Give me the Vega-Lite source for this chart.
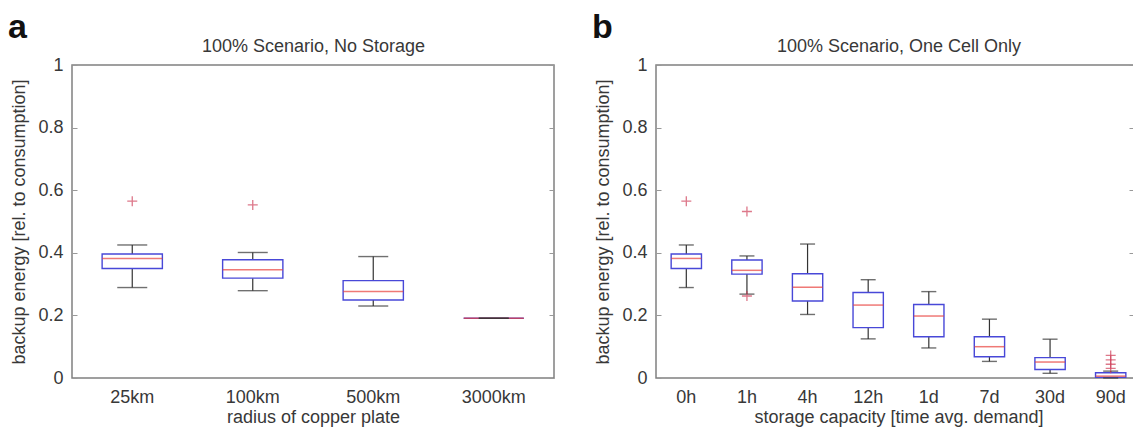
{
  "$schema": "https://vega.github.io/schema/vega-lite/v6.json",
  "background": "white",
  "padding": {"left": 7, "top": 10, "right": 0, "bottom": 0},
  "datasets": {
    "statsA": [
      {"cat": "25km", "lo": 0.289, "q1": 0.350, "med": 0.382, "q3": 0.396, "hi": 0.425},
      {"cat": "100km", "lo": 0.279, "q1": 0.319, "med": 0.346, "q3": 0.378, "hi": 0.401},
      {"cat": "500km", "lo": 0.230, "q1": 0.249, "med": 0.276, "q3": 0.311, "hi": 0.388},
      {"cat": "3000km", "lo": 0.191, "q1": 0.191, "med": 0.191, "q3": 0.191, "hi": 0.191}
    ],
    "outA": [
      {"cat": "25km", "v": 0.565},
      {"cat": "100km", "v": 0.553}
    ],
    "statsB": [
      {"cat": "0h", "lo": 0.289, "q1": 0.350, "med": 0.382, "q3": 0.396, "hi": 0.425},
      {"cat": "1h", "lo": 0.268, "q1": 0.332, "med": 0.344, "q3": 0.377, "hi": 0.390},
      {"cat": "4h", "lo": 0.203, "q1": 0.246, "med": 0.290, "q3": 0.333, "hi": 0.428},
      {"cat": "12h", "lo": 0.125, "q1": 0.161, "med": 0.233, "q3": 0.273, "hi": 0.314},
      {"cat": "1d", "lo": 0.096, "q1": 0.132, "med": 0.198, "q3": 0.235, "hi": 0.276},
      {"cat": "7d", "lo": 0.053, "q1": 0.068, "med": 0.100, "q3": 0.132, "hi": 0.188},
      {"cat": "30d", "lo": 0.015, "q1": 0.027, "med": 0.051, "q3": 0.065, "hi": 0.124},
      {"cat": "90d", "lo": 0.0, "q1": 0.002, "med": 0.006, "q3": 0.017, "hi": 0.022}
    ],
    "outB": [
      {"cat": "0h", "v": 0.565},
      {"cat": "1h", "v": 0.532},
      {"cat": "1h", "v": 0.262},
      {"cat": "90d", "v": 0.072},
      {"cat": "90d", "v": 0.058},
      {"cat": "90d", "v": 0.044},
      {"cat": "90d", "v": 0.031}
    ]
  },
  "config": {
    "font": "Liberation Sans",
    "view": {"stroke": "#808080", "strokeWidth": 1.5},
    "axis": {
      "labelFont": "Liberation Sans",
      "titleFont": "Liberation Sans",
      "labelFontSize": 18,
      "titleFontSize": 18,
      "labelColor": "#383838",
      "titleColor": "#383838",
      "titleFontWeight": "normal",
      "domain": false,
      "grid": false,
      "tickColor": "#999999"
    },
    "title": {"font": "Liberation Sans", "fontSize": 34, "fontWeight": "bold", "color": "#111111", "anchor": "start", "frame": "bounds"}
  },
  "hconcat": [
    {
      "width": 482,
      "height": 313,
      "title": {"text": "a", "offset": -8, "dx": -3},
      "layer": [
        {
          "data": {"name": "statsA"},
          "mark": {"type": "rule", "color": "#333333", "strokeWidth": 1.2},
          "encoding": {
            "x": {"field": "cat", "type": "nominal", "scale": {"domain": ["25km", "100km", "500km", "3000km"], "paddingInner": 0, "paddingOuter": 0},
                  "axis": {"orient": "bottom", "ticks": false, "labelAngle": 0, "labelPadding": 10, "title": "radius of copper plate", "titlePadding": 2}},
            "y": {"field": "lo", "type": "quantitative", "scale": {"domain": [0, 1], "nice": false},
                  "axis": {"orient": "left", "values": [0, 0.2, 0.4, 0.6, 0.8, 1], "format": "~g", "tickSize": -5, "labelPadding": 14, "title": "backup energy [rel. to consumption]", "titlePadding": 9}},
            "y2": {"field": "hi"}
          }
        },
        {
          "data": {"name": "statsA"},
          "mark": {"type": "bar", "width": {"band": 0.5}, "fill": "white", "stroke": "#4848d8", "strokeWidth": 1.4},
          "encoding": {
            "x": {"field": "cat", "type": "nominal", "axis": null},
            "y": {"field": "q1", "type": "quantitative", "axis": null},
            "y2": {"field": "q3"}
          }
        },
        {
          "data": {"name": "statsA"},
          "mark": {"type": "tick", "color": "#e8403c", "size": 60, "thickness": 1.5},
          "encoding": {
            "x": {"field": "cat", "type": "nominal", "axis": null},
            "y": {"field": "med", "type": "quantitative", "axis": null}
          }
        },
        {
          "data": {"name": "statsA"},
          "mark": {"type": "tick", "color": "#333333", "size": 30, "thickness": 1.4},
          "encoding": {
            "x": {"field": "cat", "type": "nominal", "axis": null},
            "y": {"field": "lo", "type": "quantitative", "axis": null}
          }
        },
        {
          "data": {"name": "statsA"},
          "mark": {"type": "tick", "color": "#333333", "size": 30, "thickness": 1.4},
          "encoding": {
            "x": {"field": "cat", "type": "nominal", "axis": null},
            "y": {"field": "hi", "type": "quantitative", "axis": null}
          }
        },
        {
          "data": {"name": "outA"},
          "mark": {"type": "point", "shape": "M-1,0H1M0,-1V1", "size": 100, "filled": false, "stroke": "#d0405a", "strokeWidth": 1.3},
          "encoding": {
            "x": {"field": "cat", "type": "nominal", "axis": {"orient": "top", "labels": false, "ticks": false, "title": "100% Scenario, No Storage", "titlePadding": 10}},
            "y": {"field": "v", "type": "quantitative", "axis": {"orient": "right", "labels": false, "values": [0, 0.2, 0.4, 0.6, 0.8, 1], "tickSize": -5, "title": null}}
          }
        }
      ],
      "resolve": {"axis": {"x": "independent", "y": "independent"}}
    },
    {
      "width": 478,
      "height": 313,
      "title": {"text": "b", "offset": -8, "dx": -3},
      "layer": [
        {
          "data": {"name": "statsB"},
          "mark": {"type": "rule", "color": "#333333", "strokeWidth": 1.2},
          "encoding": {
            "x": {"field": "cat", "type": "nominal", "scale": {"domain": ["0h", "1h", "4h", "12h", "1d", "7d", "30d", "90d"], "paddingInner": 0, "paddingOuter": 0, "range": [0, 485]},
                  "axis": {"orient": "bottom", "ticks": false, "labelAngle": 0, "labelPadding": 10, "title": "storage capacity [time avg. demand]", "titlePadding": 2}},
            "y": {"field": "lo", "type": "quantitative", "scale": {"domain": [0, 1], "nice": false},
                  "axis": {"orient": "left", "values": [0, 0.2, 0.4, 0.6, 0.8, 1], "format": "~g", "tickSize": -5, "labelPadding": 14, "title": "backup energy [rel. to consumption]", "titlePadding": 9}},
            "y2": {"field": "hi"}
          }
        },
        {
          "data": {"name": "statsB"},
          "mark": {"type": "bar", "width": {"band": 0.5}, "fill": "white", "stroke": "#4848d8", "strokeWidth": 1.4},
          "encoding": {
            "x": {"field": "cat", "type": "nominal", "axis": null},
            "y": {"field": "q1", "type": "quantitative", "axis": null},
            "y2": {"field": "q3"}
          }
        },
        {
          "data": {"name": "statsB"},
          "mark": {"type": "tick", "color": "#e8403c", "size": 30, "thickness": 1.5},
          "encoding": {
            "x": {"field": "cat", "type": "nominal", "axis": null},
            "y": {"field": "med", "type": "quantitative", "axis": null}
          }
        },
        {
          "data": {"name": "statsB"},
          "mark": {"type": "tick", "color": "#333333", "size": 15, "thickness": 1.4},
          "encoding": {
            "x": {"field": "cat", "type": "nominal", "axis": null},
            "y": {"field": "lo", "type": "quantitative", "axis": null}
          }
        },
        {
          "data": {"name": "statsB"},
          "mark": {"type": "tick", "color": "#333333", "size": 15, "thickness": 1.4},
          "encoding": {
            "x": {"field": "cat", "type": "nominal", "axis": null},
            "y": {"field": "hi", "type": "quantitative", "axis": null}
          }
        },
        {
          "data": {"name": "outB"},
          "mark": {"type": "point", "shape": "M-1,0H1M0,-1V1", "size": 100, "filled": false, "stroke": "#d0405a", "strokeWidth": 1.3},
          "encoding": {
            "x": {"field": "cat", "type": "nominal", "axis": {"orient": "top", "labels": false, "ticks": false, "title": "100% Scenario, One Cell Only", "titlePadding": 10}},
            "y": {"field": "v", "type": "quantitative", "axis": {"orient": "right", "labels": false, "values": [0, 0.2, 0.4, 0.6, 0.8, 1], "tickSize": -5, "title": null}}
          }
        }
      ],
      "resolve": {"axis": {"x": "independent", "y": "independent"}}
    }
  ],
  "spacing": 102,
  "bounds": "flush"
}
